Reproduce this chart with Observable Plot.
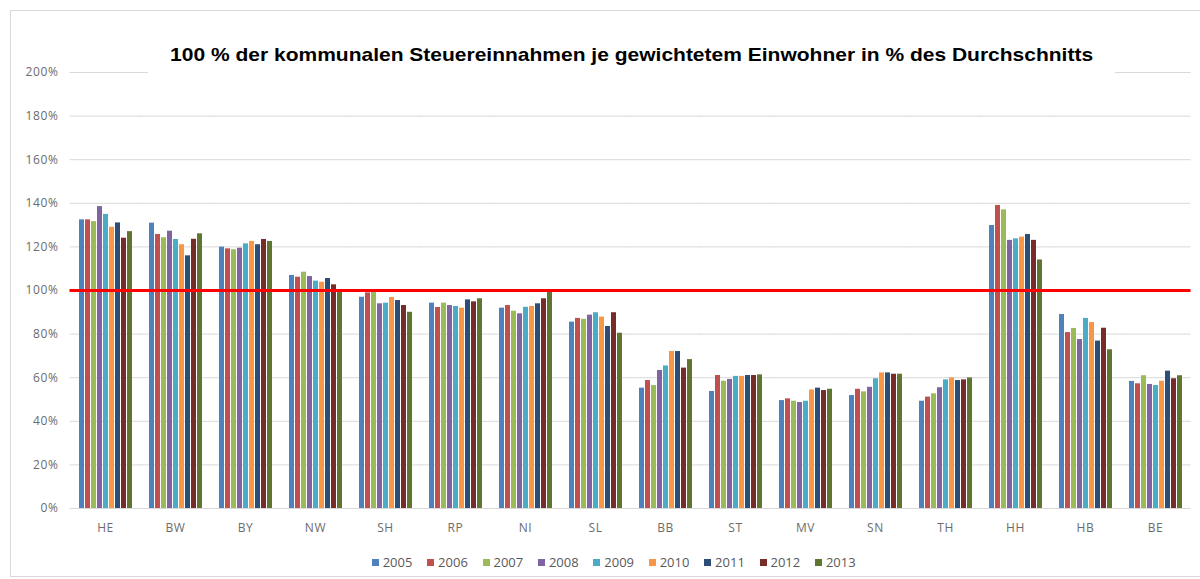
<!DOCTYPE html>
<html><head><meta charset="utf-8">
<script src="https://cdn.jsdelivr.net/npm/d3@7"></script>
<script src="https://cdn.jsdelivr.net/npm/@observablehq/plot@0.6"></script>
<style>
body{margin:0;background:#fff;}
#wrap{position:relative;width:1200px;height:579px;overflow:hidden;font-family:"Open Sans",sans-serif;}
#frame{position:absolute;left:10px;top:10px;width:1200px;height:567px;border:1px solid #d9d9d9;box-sizing:border-box;}
#chart{position:absolute;left:0;top:0;}
#title{position:absolute;left:148px;width:967px;top:35px;height:40px;background:#fff;text-align:center;line-height:40px;color:#000;white-space:nowrap;}
#title span{display:inline-block;font:bold 18.5px "Liberation Sans",Arial,sans-serif;transform:scaleX(1.135);transform-origin:50% 50%;}
.item{position:absolute;top:553px;font-size:13px;color:#595959;line-height:18px;white-space:nowrap;}
.sw{display:inline-block;width:7px;height:7px;margin-right:4px;vertical-align:1px;}
</style>
</head><body>
<div id="wrap"><div id="frame"></div><div id="chart"></div><div id="title"><span></span></div><div id="legend"></div></div>
<script>
const titleText = "100 % der kommunalen Steuereinnahmen je gewichtetem Einwohner in % des Durchschnitts";
const states = ["HE","BW","BY","NW","SH","RP","NI","SL","BB","ST","MV","SN","TH","HH","HB","BE"];
const years = ["2005","2006","2007","2008","2009","2010","2011","2012","2013"];
const colors = ["#4F81BD","#C0504D","#9BBB59","#8064A2","#4BACC6","#F79646","#2C4D75","#772C2A","#5F7530"];
const yTicks = [0,20,40,60,80,100,120,140,160,180,200];
const reference = [100];

const v2005 = [132.4,130.9,119.9,106.9,96.9,94.2,91.9,85.5,55.2,53.7,49.5,51.8,49.2,129.8,89.0,58.3];
const v2006 = [132.4,125.7,119.1,106.1,98.9,92.2,93.1,87.2,58.7,61.0,50.3,54.7,51.1,139.0,80.7,57.2];
const v2007 = [131.6,124.2,118.7,108.4,99.5,94.2,90.5,86.8,56.4,58.4,49.2,53.5,52.6,137.0,82.6,60.9];
const v2008 = [138.5,127.2,119.4,106.4,93.9,93.1,89.3,88.7,63.3,59.2,48.6,55.6,55.4,123.0,77.5,56.9];
const v2009 = [134.9,123.4,121.4,104.3,94.2,92.7,92.3,89.8,65.4,60.6,49.2,59.5,59.0,123.7,87.2,56.4];
const v2010 = [129.0,121.0,122.5,103.8,96.8,91.9,92.7,87.8,72.0,60.6,54.4,62.2,59.9,124.5,85.3,58.4];
const v2011 = [131.0,115.9,121.0,105.5,95.4,95.7,93.9,83.5,72.0,61.0,55.2,62.2,58.7,125.7,76.8,63.0];
const v2012 = [124.0,123.5,123.4,102.6,93.1,94.8,96.2,89.8,64.4,61.0,54.1,61.6,59.0,123.0,82.7,59.5];
const v2013 = [127.0,126.0,122.5,99.5,90.0,96.2,99.5,80.4,68.3,61.3,54.7,61.6,59.9,114.0,72.8,60.9];
const series = [v2005,v2006,v2007,v2008,v2009,v2010,v2011,v2012,v2013];

const data = states.flatMap((s,i)=>years.map((y,j)=>({state:s, year:y, value:series[j][i]})));

const chart = Plot.plot({
  width:1200, height:579,
  marginTop:72, marginBottom:71, marginLeft:68, marginRight:8,
  style:{fontFamily:"'Open Sans', sans-serif", fontSize:"12px", letterSpacing:"0.6px", color:"#6b6b6b", background:"transparent", overflow:"visible"},
  fx:{domain:states, paddingInner:0.14, paddingOuter:0.07, label:null},
  x:{domain:years, paddingInner:0.25, paddingOuter:0, axis:null},
  y:{domain:[0,200], label:null},
  color:{domain:years, range:colors},
  marks:[
    Plot.ruleY(yTicks, {y:d=>d, stroke:"#d9d9d9", strokeWidth:1, insetLeft:-5.5, insetRight:-5.5}),
    Plot.barY(data, {fx:"state", x:"year", y:"value", fill:"year"}),
    Plot.ruleY(reference, {y:d=>d, stroke:"#ff0000", strokeWidth:3, insetLeft:-5.5, insetRight:-5.5}),
    Plot.axisY({ticks:yTicks, tickFormat:d=>d+"%", tickSize:0, tickPadding:17, label:null, fill:"#6b6b6b"}),
    Plot.axisFx({anchor:"bottom", tickSize:0, tickPadding:15, label:null, fill:"#6b6b6b"})
  ]
});
document.getElementById("chart").appendChild(chart);
document.querySelector("#title span").textContent = titleText;

const legend = document.getElementById("legend");
years.forEach((y,i)=>{
  const it = document.createElement("div");
  it.className = "item";
  it.style.left = (371.7 + i*55.4) + "px";
  const sw = document.createElement("span");
  sw.className = "sw";
  sw.style.background = colors[i];
  it.appendChild(sw);
  it.appendChild(document.createTextNode(y));
  legend.appendChild(it);
});
</script>
</body></html>
